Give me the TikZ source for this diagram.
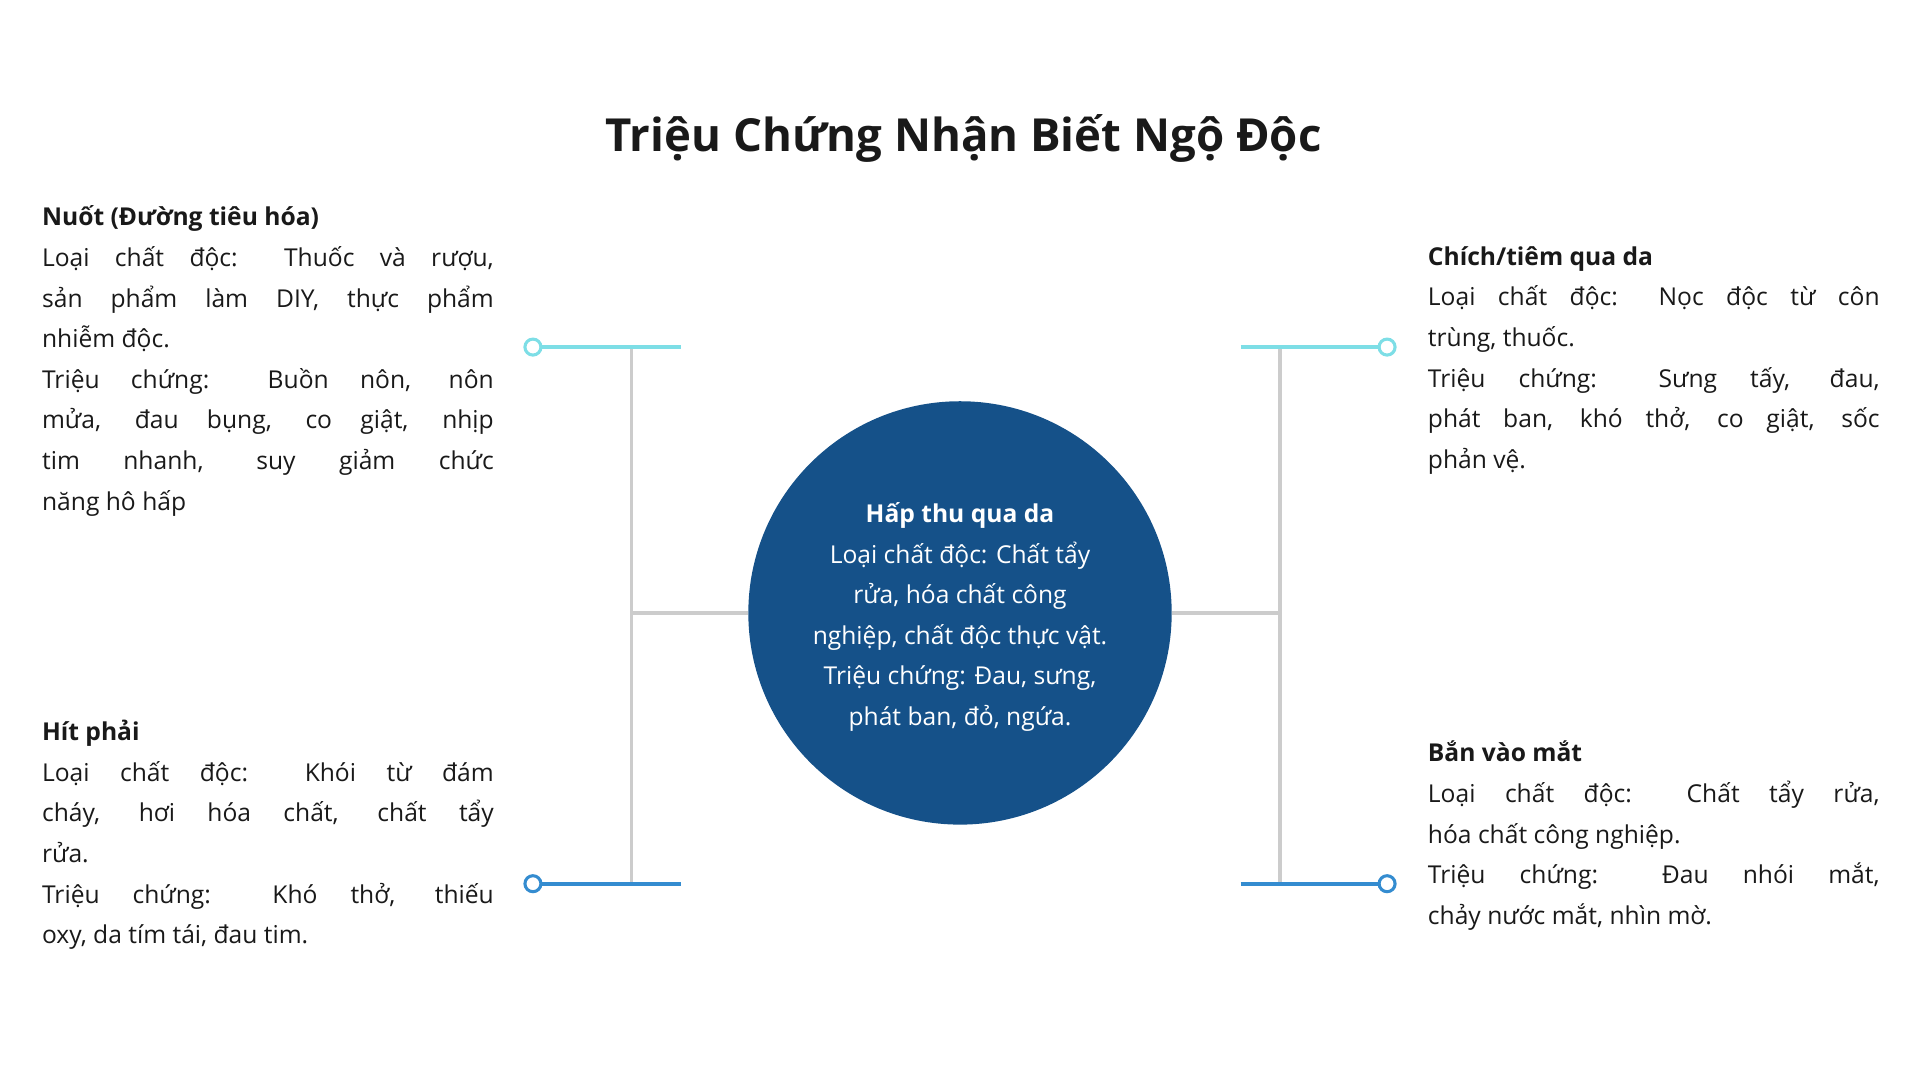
\documentclass[tikz,border=0pt]{standalone}
\usepackage{fontspec}
\setmainfont{Open Sans}
\definecolor{circ}{RGB}{21,81,137}
\definecolor{cyanl}{RGB}{125,222,230}
\definecolor{bluel}{RGB}{52,140,208}
\definecolor{gry}{RGB}{204,204,204}
\definecolor{txt}{RGB}{25,25,25}
\tikzset{
 body/.style={inner sep=0pt,text width=367pt,align=justify,font=\fontsize{20}{33}\selectfont,text=txt},
 spine/.style={draw=gry,line width=3pt},
 dot/.style={circle,draw,line width=2.5pt,fill=white,minimum size=13pt,inner sep=0pt},
}
\begin{document}
\begin{tikzpicture}[x=1pt,y=-1pt]
\useasboundingbox (0,0) rectangle (1560,878);
\node[font=\fontsize{37}{40}\selectfont\bfseries,text=txt,anchor=base] (title) at (783,123) {Triệu Chứng Nhận Biết Ngộ Độc};
% spines
\coordinate (lt) at (513,282); \coordinate (lb) at (513,718);
\coordinate (rt) at (1040,282); \coordinate (rb) at (1040,718);
\coordinate (lm) at (513,498); \coordinate (rm) at (1040,498);
\draw[spine] (lt) -- (lb);
\draw[spine] (rt) -- (rb);
\node[circle,fill=circ,minimum size=344pt,inner sep=0pt] (c) at (780,498) {};
\draw[spine] (lm) -- (c.west);
\draw[spine] (c.east) -- (rm);
% branches
\coordinate (a1) at (553,282); \coordinate (a2) at (553,718);
\coordinate (b1) at (1008,282); \coordinate (b2) at (1008,718);
\node[dot,draw=cyanl] (d1) at (433,282) {};
\node[dot,draw=bluel] (d2) at (433,718) {};
\node[dot,draw=cyanl] (d3) at (1127,282) {};
\node[dot,draw=bluel] (d4) at (1127,718) {};
\draw[cyanl,line width=3pt] (d1) -- (a1);
\draw[bluel,line width=3pt] (d2) -- (a2);
\draw[cyanl,line width=3pt] (b1) -- (d3);
\draw[bluel,line width=3pt] (b2) -- (d4);
% texts
\node[body,anchor=north west] (t1) at (34,167) {\textbf{Nuốt (Đường tiêu hóa)}\\
Loại chất độc: Thuốc và rượu,\linebreak sản phẩm làm DIY, thực phẩm\linebreak nhiễm độc.\\
Triệu chứng: Buồn nôn, nôn\linebreak mửa, đau bụng, co giật, nhịp\linebreak tim nhanh, suy giảm chức\linebreak năng hô hấp};
\node[body,anchor=north west] (t2) at (34,585) {\textbf{Hít phải}\\
Loại chất độc: Khói từ đám\linebreak cháy, hơi hóa chất, chất tẩy\linebreak rửa.\\
Triệu chứng: Khó thở, thiếu\linebreak oxy, da tím tái, đau tim.};
\node[body,anchor=north west] (t3) at (1160,200) {\textbf{Chích/tiêm qua da}\\
Loại chất độc: Nọc độc từ côn\linebreak trùng, thuốc.\\
Triệu chứng: Sưng tấy, đau,\linebreak phát ban, khó thở, co giật, sốc\linebreak phản vệ.};
\node[body,anchor=north west] (t4) at (1160,602) {\textbf{Bắn vào mắt}\\
Loại chất độc: Chất tẩy rửa,\linebreak hóa chất công nghiệp.\\
Triệu chứng: Đau nhói mắt,\linebreak chảy nước mắt, nhìn mờ.};
\node[inner sep=0pt,align=center,text=white,font=\fontsize{20}{33}\selectfont,anchor=north] (ct) at (780,408) {\textbf{Hấp thu qua da}\\
Loại chất độc: Chất tẩy\\ rửa, hóa chất công\\ nghiệp, chất độc thực vật.\\ Triệu chứng: Đau, sưng,\\ phát ban, đỏ, ngứa.};
\end{tikzpicture}
\end{document}
